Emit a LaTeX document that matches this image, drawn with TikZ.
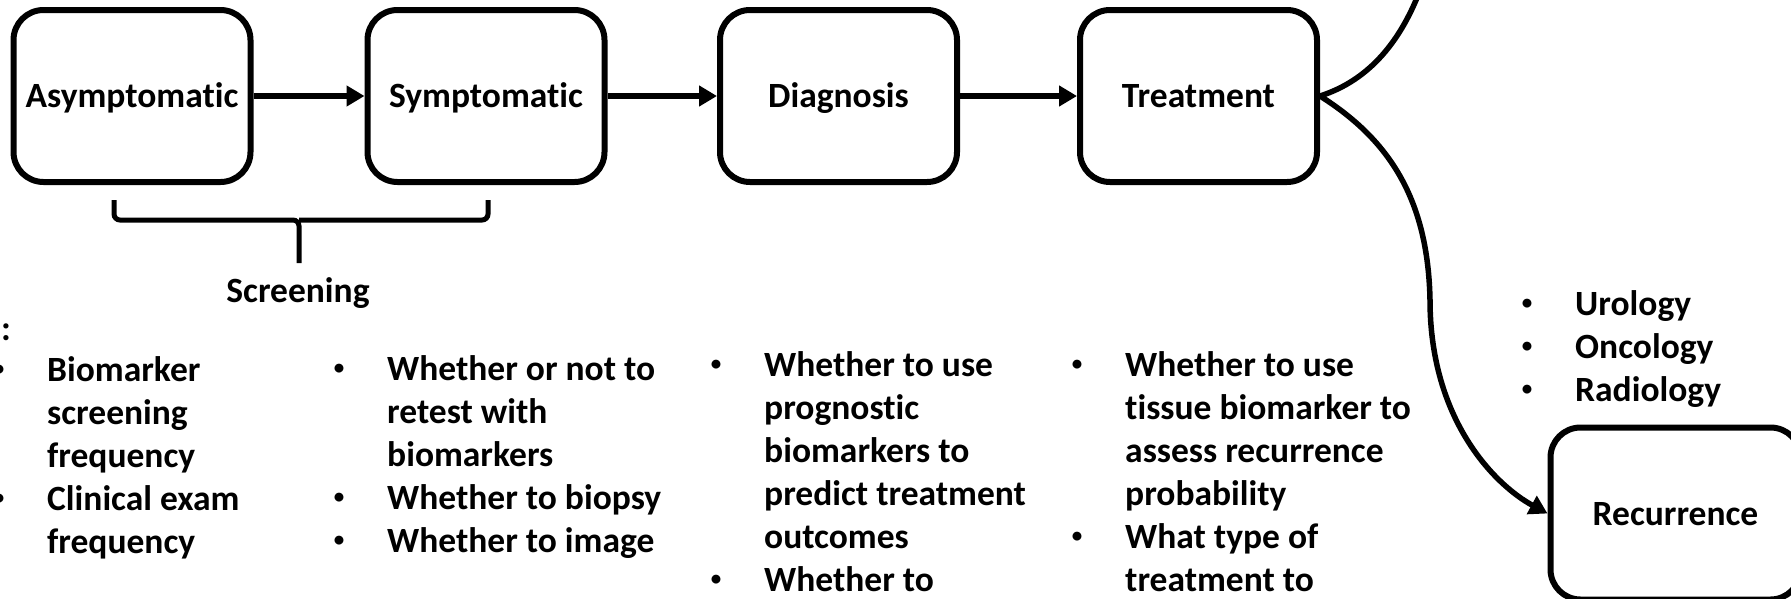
\documentclass[tikz,border=0pt]{standalone}
\usepackage{fontspec}
\setmainfont{Carlito}[Ligatures=NoCommon]
\usetikzlibrary{arrows.meta}
\newcommand{\smallbul}{\raisebox{5.5pt}{\fontsize{21}{21}\selectfont\textbullet}}
\newcommand{\bitem}[1]{\makebox[48pt][l]{\makebox[0pt]{\smallbul}}#1}
\newcommand{\nitem}[1]{\hspace*{48pt}#1}
\begin{document}
\begin{tikzpicture}[x=1pt,y=-1pt,
  stage/.style={draw,line width=6pt,rounded corners=30pt,minimum width=237pt,minimum height=172pt,inner sep=0pt,text height=23pt,text depth=0pt,font=\fontsize{35.5}{43}\selectfont\bfseries},
  txt/.style={inner sep=0pt,font=\fontsize{35.5}{43}\selectfont\bfseries},
  listnode/.style={txt,anchor=base west},
  flow/.style={line width=5.5pt,-{Triangle[length=18pt,width=20pt]}},
  branchline/.style={line width=5.5pt},
  brace/.style={line width=5pt,rounded corners=6pt}]
\path[use as bounding box,clip] (0,0) rectangle (1791,598);

% stages
\node[stage] (asym) at (132,96) {Asymptomatic};
\node[stage] (sym) at (486,96) {Symptomatic};
\node[stage] (diag) at (838.5,96) {Diagnosis};
\node[stage] (treat) at (1198.5,96) {Treatment};
\node[stage,minimum width=250pt] (rec) at (1675.5,513.5) {Recurrence};

\draw[flow] (asym) -- (sym);
\draw[flow] (sym) -- (diag);
\draw[flow] (diag) -- (treat);

% branching curves
\coordinate (up) at (1422,-15);
\coordinate (mid) at (1430,300);
\draw[branchline] (treat.east) .. controls (1370,80) and (1402,40) .. (up);
\draw[branchline] (treat.east) .. controls (1390,140) and (1428,200) .. (mid);
\draw[flow] (mid) .. controls (1430,420) and (1495,485) .. (rec.west);

% screening bracket
\coordinate (bl) at (114,200);
\coordinate (br) at (488,200);
\coordinate (bm) at (299,220);
\coordinate (bs) at (299,263);
\draw[brace] (bl) |- (bm) -- (bs);
\draw[brace] (br) |- (bm);
\node[txt,anchor=base] (scr) at (298,302) {Screening};

\node[txt,anchor=base east] (colon) at (11,340) {:};

% lists
\node[listnode] (l1) at (-1,381) {\begin{tabular}[t]{@{}l@{}}
\bitem{Biomarker}\\ \nitem{screening}\\ \nitem{frequency}\\ \bitem{Clinical exam}\\ \nitem{frequency}
\end{tabular}};
\node[listnode] (l2) at (339,380) {\begin{tabular}[t]{@{}l@{}}
\bitem{Whether or not to}\\ \nitem{retest with}\\ \nitem{biomarkers}\\ \bitem{Whether to biopsy}\\ \bitem{Whether to image}
\end{tabular}};
\node[listnode] (l3) at (716,376) {\begin{tabular}[t]{@{}l@{}}
\bitem{Whether to use}\\ \nitem{prognostic}\\ \nitem{biomarkers to}\\ \nitem{predict treatment}\\ \nitem{outcomes}\\ \bitem{Whether to}
\end{tabular}};
\node[listnode] (l4) at (1077,376) {\begin{tabular}[t]{@{}l@{}}
\bitem{Whether to use}\\ \nitem{tissue biomarker to}\\ \nitem{assess recurrence}\\ \nitem{probability}\\ \bitem{What type of}\\ \nitem{treatment to}
\end{tabular}};
\node[listnode] (l5) at (1527,315) {\begin{tabular}[t]{@{}l@{}}
\bitem{Urology}\\ \bitem{Oncology}\\ \bitem{Radiology}
\end{tabular}};
\end{tikzpicture}
\end{document}
